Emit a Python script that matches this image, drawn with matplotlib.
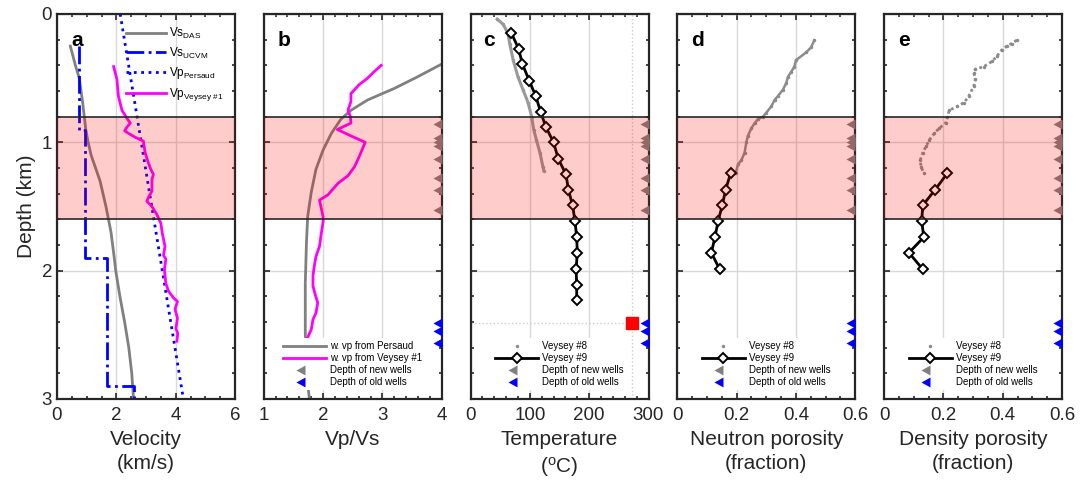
import numpy as np
import matplotlib
matplotlib.use("Agg")
import matplotlib.pyplot as plt
from matplotlib.lines import Line2D
from matplotlib.ticker import MultipleLocator, FuncFormatter

plt.rcParams['font.family'] = ['Liberation Sans', 'DejaVu Sans']
plt.rcParams['mathtext.fontset'] = 'custom'
plt.rcParams['mathtext.rm'] = 'Liberation Sans'
plt.rcParams['mathtext.it'] = 'Liberation Sans:italic'

# ---- panel a: velocity profiles (km/s vs depth km)
vs_das_depth = [0.25, 0.4, 0.5, 0.7, 0.9, 1.0, 1.1, 1.2, 1.3, 1.5, 1.7, 1.9, 2.0, 2.2, 2.4, 2.6, 2.8, 3.0]
vs_das_vel = [0.45, 0.62, 0.75, 0.87, 0.97, 1.05, 1.15, 1.3, 1.45, 1.65, 1.82, 1.93, 1.98, 2.12, 2.28, 2.42, 2.52, 2.58]

vs_ucvm_depth = [0.25, 0.9, 0.9, 1.9, 1.9, 2.9, 2.9, 3.0]
vs_ucvm_vel = [0.73, 0.73, 0.95, 0.95, 1.70, 1.70, 2.58, 2.58]

vp_persaud_depth = [0.0, 3.0]
vp_persaud_vel = [2.13, 4.26]

vp_veysey1_depth = [0.41, 0.51, 0.64, 0.75, 0.81, 0.85, 0.89, 0.91, 0.93, 0.96, 0.99, 1.08, 1.16,
                    1.21, 1.25, 1.29, 1.38, 1.43, 1.46, 1.50, 1.56, 1.63, 1.71, 1.81, 1.88, 1.91,
                    1.99, 2.10, 2.16, 2.21, 2.24, 2.30, 2.37, 2.45, 2.49, 2.55]
vp_veysey1_vel = [1.91, 2.02, 2.07, 2.19, 2.35, 2.47, 2.33, 2.28, 2.41, 2.63, 2.91, 2.97, 3.08,
                  3.16, 3.25, 3.20, 3.20, 3.08, 3.03, 3.20, 3.36, 3.50, 3.55, 3.64, 3.59, 3.67,
                  3.62, 3.67, 3.76, 3.92, 4.06, 3.98, 4.06, 4.01, 4.07, 4.04]

# ---- panel b: Vp/Vs
vpvs_persaud_depth = [0.39, 0.49, 0.58, 0.67, 0.75, 0.82, 0.93, 1.06, 1.21, 1.39, 1.58, 1.78, 2.10, 2.49, 2.88, 3.0]
vpvs_persaud = [4.0, 3.59, 3.2, 2.75, 2.47, 2.30, 2.14, 2.0, 1.88, 1.80, 1.74, 1.72, 1.70, 1.70, 1.74, 1.77]

vpvs_veysey1_depth = [0.40, 0.45, 0.50, 0.55, 0.62, 0.68, 0.75, 0.80, 0.85, 0.90, 0.95, 1.00, 1.11, 1.19,
                      1.26, 1.32, 1.41, 1.45, 1.58, 1.62, 1.71, 1.81, 1.89, 1.97, 2.04, 2.12, 2.19,
                      2.25, 2.33, 2.38, 2.46, 2.52]
vpvs_veysey1 = [2.98, 2.86, 2.75, 2.61, 2.47, 2.47, 2.42, 2.46, 2.47, 2.24, 2.47, 2.71, 2.61, 2.53,
                2.42, 2.25, 2.08, 1.94, 2.0, 2.0, 1.97, 1.94, 1.88, 1.85, 1.83, 1.83, 1.87,
                1.91, 1.88, 1.83, 1.80, 1.74]

# ---- panel c: temperature (deg C)
temp8_depth = [0.04, 0.08, 0.15, 0.23, 0.36, 0.49, 0.59, 0.69, 0.80, 0.90, 0.98, 1.08, 1.19, 1.22]
temp8 = [45, 55, 63, 66, 72, 80, 88.5, 97, 103, 106.5, 111, 117, 122, 123.5]

temp9_depth = [0.15, 0.27, 0.39, 0.52, 0.64, 0.76, 0.88, 1.0, 1.13, 1.25, 1.37, 1.49, 1.61,
               1.74, 1.86, 1.99, 2.11, 2.23]
temp9 = [69, 81, 87.5, 99, 110, 118, 127, 140, 148, 161, 165, 172, 176, 179, 180, 178, 179, 179]

hot_temp = [273]
hot_depth = [2.41]

# ---- panel d: neutron porosity
nphi8_depth = [0.205, 0.26, 0.30, 0.36, 0.41, 0.45, 0.49, 0.54, 0.59, 0.64, 0.67, 0.72, 0.77,
               0.80, 0.82, 0.85, 0.89, 0.95, 1.0, 1.08, 1.14, 1.17, 1.24]
nphi8 = [0.462, 0.451, 0.434, 0.40, 0.395, 0.384, 0.373, 0.367, 0.356, 0.339, 0.328, 0.317, 0.30,
         0.289, 0.272, 0.261, 0.25, 0.238, 0.233, 0.227, 0.216, 0.205, 0.197]
nphi9_depth = [1.24, 1.37, 1.49, 1.61, 1.74, 1.86, 1.99]
nphi9 = [0.180, 0.163, 0.152, 0.138, 0.127, 0.115, 0.143]

# ---- panel e: density porosity
dphi8_depth = [0.205, 0.23, 0.25, 0.28, 0.33, 0.37, 0.41, 0.43, 0.46, 0.51, 0.56, 0.64, 0.69, 0.72,
               0.75, 0.80, 0.85, 0.89, 0.93, 0.98, 1.03, 1.08, 1.14, 1.19, 1.24]
dphi8 = [0.447, 0.43, 0.414, 0.397, 0.38, 0.364, 0.336, 0.308, 0.303, 0.308, 0.303, 0.286, 0.27,
         0.247, 0.22, 0.214, 0.208, 0.186, 0.17, 0.153, 0.142, 0.131, 0.122, 0.125, 0.134]
dphi9_depth = [1.24, 1.37, 1.49, 1.61, 1.74, 1.86, 1.99]
dphi9 = [0.214, 0.172, 0.131, 0.127, 0.134, 0.084, 0.131]

# ---- well depths and target zone
new_well_depths = [0.86, 0.97, 1.0, 1.03, 1.13, 1.28, 1.37, 1.53]
old_well_depths = [2.41, 2.47, 2.56]
zone_top, zone_bottom = 0.8, 1.6

panel_letters = ['a', 'b', 'c', 'd', 'e']
x_labels = ['Velocity\n(km/s)', 'Vp/Vs', 'Temperature\n($^{\\rm o}$C)',
            'Neutron porosity\n(fraction)', 'Density porosity\n(fraction)']
x_limits = [(0, 6), (1, 4), (0, 300), (0, 0.6), (0, 0.6)]
x_major = [2, 1, 100, 0.2, 0.2]
x_minor = [0.5, 0.2, 20, 0.05, 0.05]

GRAY = '0.5'
# triangle with its flat side on the right edge, tip pointing left
TRI = [(0, -0.55), (0, 0.55), (-1, 0), (0, -0.55)]
short = FuncFormatter(lambda v, p: '%g' % round(v, 6))

W, H = 1088, 484
fig = plt.figure(figsize=(W / 100, H / 100), dpi=100)

axes = []
for i in range(5):
    left = 57 + i * 206.75
    ax = fig.add_axes([left / W, 1 - 399 / H, 178 / W, 385 / H])
    axes.append(ax)

for i, ax in enumerate(axes):
    ax.set_xlim(*x_limits[i])
    ax.set_ylim(3, 0)
    ax.xaxis.set_major_locator(MultipleLocator(x_major[i]))
    ax.xaxis.set_minor_locator(MultipleLocator(x_minor[i]))
    ax.yaxis.set_major_locator(MultipleLocator(1))
    ax.yaxis.set_minor_locator(MultipleLocator(0.2))
    ax.xaxis.set_major_formatter(short)
    ax.yaxis.set_major_formatter(short)
    ax.tick_params(which='both', direction='in', top=True, right=True,
                   labelsize=13.5, colors='0.15', width=1.2)
    ax.tick_params(which='major', length=4)
    ax.tick_params(which='minor', length=2.5)
    ax.tick_params(axis='x', pad=6)
    ax.grid(True, which='major', color='0.85', lw=1)
    ax.set_axisbelow(True)
    for s in ax.spines.values():
        s.set_linewidth(1.6)
        s.set_color('0.15')
    ax.set_xlabel(x_labels[i], fontsize=15, color='0.15', linespacing=1.35)
    if i == 0:
        ax.set_ylabel('Depth (km)', fontsize=15, color='0.15')
    else:
        ax.tick_params(axis='y', labelleft=False)
    ax.text(0.08 if i != 2 else 0.07, 0.955, panel_letters[i], transform=ax.transAxes,
            fontsize=15, fontweight='bold', va='top', ha='left', zorder=3)

# panel a
ax = axes[0]
ax.plot(vs_das_vel, vs_das_depth, color=GRAY, lw=2, label=r'Vs$_{\rm DAS}$')
ax.plot(vs_ucvm_vel, vs_ucvm_depth, color='b', lw=2, ls='-.', label=r'Vs$_{\rm UCVM}$')
ax.plot(vp_persaud_vel, vp_persaud_depth, color='b', lw=2, ls=':', label=r'Vp$_{\rm Persaud}$')
ax.plot(vp_veysey1_vel, vp_veysey1_depth, color='magenta', lw=2, label=r'Vp$_{\rm Veysey\ \#1}$')
ax.legend(loc='upper right', fontsize=8.5, frameon=False, handlelength=3.4,
          handletextpad=0.2, labelspacing=0.4, borderaxespad=0.6)

# panel b
ax = axes[1]
ax.plot(vpvs_persaud, vpvs_persaud_depth, color=GRAY, lw=2, label='w. vp from Persaud')
ax.plot(vpvs_veysey1, vpvs_veysey1_depth, color='magenta', lw=2, label='w. vp from Veysey #1')

# panel c
ax = axes[2]
ax.axvline(hot_temp[0], color='0.8', lw=1, ls=':', zorder=1)
ax.plot([0, hot_temp[0]], [hot_depth[0], hot_depth[0]], color='0.8', lw=1, ls=':', zorder=1)
ax.plot(temp8, temp8_depth, color='0.6', lw=2.2, marker='.', ms=3, zorder=2)
ax.plot(temp9, temp9_depth, color='k', lw=2, marker='D', ms=5.5, mfc='white', mec='k', mew=1.4, zorder=4)
ax.plot(hot_temp, hot_depth, ls='none', marker='s', ms=8, color='red', zorder=4)

# panels d, e
axes[3].plot(nphi8, nphi8_depth, color='0.55', lw=1.8, marker='.', ms=3, zorder=2)
axes[3].plot(nphi9, nphi9_depth, color='k', lw=2, marker='D', ms=5.5, mfc='white', mec='k', mew=1.4, zorder=4)
axes[4].plot(dphi8, dphi8_depth, color='0.55', lw=2, ls=(0, (1, 1)), marker='.', ms=3, zorder=2)
axes[4].plot(dphi9, dphi9_depth, color='k', lw=2, marker='D', ms=5.5, mfc='white', mec='k', mew=1.4, zorder=4)

for i, ax in enumerate(axes):
    if i > 0:
        xmax = x_limits[i][1]
        ax.plot([xmax] * len(new_well_depths), new_well_depths, ls='none', marker=TRI, ms=13,
                color=GRAY, mec='none', zorder=4)
        ax.plot([xmax] * len(old_well_depths), old_well_depths, ls='none', marker=TRI, ms=13,
                color='b', mec='none', zorder=4)
    ax.axhspan(zone_top, zone_bottom, color='red', alpha=0.2, lw=0, zorder=5)
    ax.axhline(zone_top, color='0.15', lw=1.2, zorder=6)
    ax.axhline(zone_bottom, color='0.15', lw=1.2, zorder=6)

# legends for panels b-e
tri_new = Line2D([], [], ls='none', marker=TRI, ms=13, color=GRAY, mec='none')
tri_old = Line2D([], [], ls='none', marker=TRI, ms=13, color='b', mec='none')
h8 = Line2D([], [], ls='none', marker='.', ms=3, color='0.55')
h9 = Line2D([], [], color='k', lw=2, marker='D', ms=5.5, mfc='white', mec='k', mew=1.4)

leg_kw = dict(loc='lower center', fontsize=7, frameon=True, edgecolor='none', fancybox=False,
              framealpha=1, handlelength=4.4, handletextpad=0.4, labelspacing=0.22,
              borderaxespad=0.9, borderpad=0.3)
hb = axes[1].get_lines()[:2]
lg = axes[1].legend(list(hb) + [tri_new, tri_old],
                    ['w. vp from Persaud', 'w. vp from Veysey #1', 'Depth of new wells', 'Depth of old wells'],
                    **leg_kw)
lg.set_zorder(10)
for ax in axes[2:]:
    lg = ax.legend([h8, h9, tri_new, tri_old],
                   ['Veysey #8', 'Veysey #9', 'Depth of new wells', 'Depth of old wells'], **leg_kw)
    lg.set_zorder(10)

fig.savefig('out.png', dpi=100)
